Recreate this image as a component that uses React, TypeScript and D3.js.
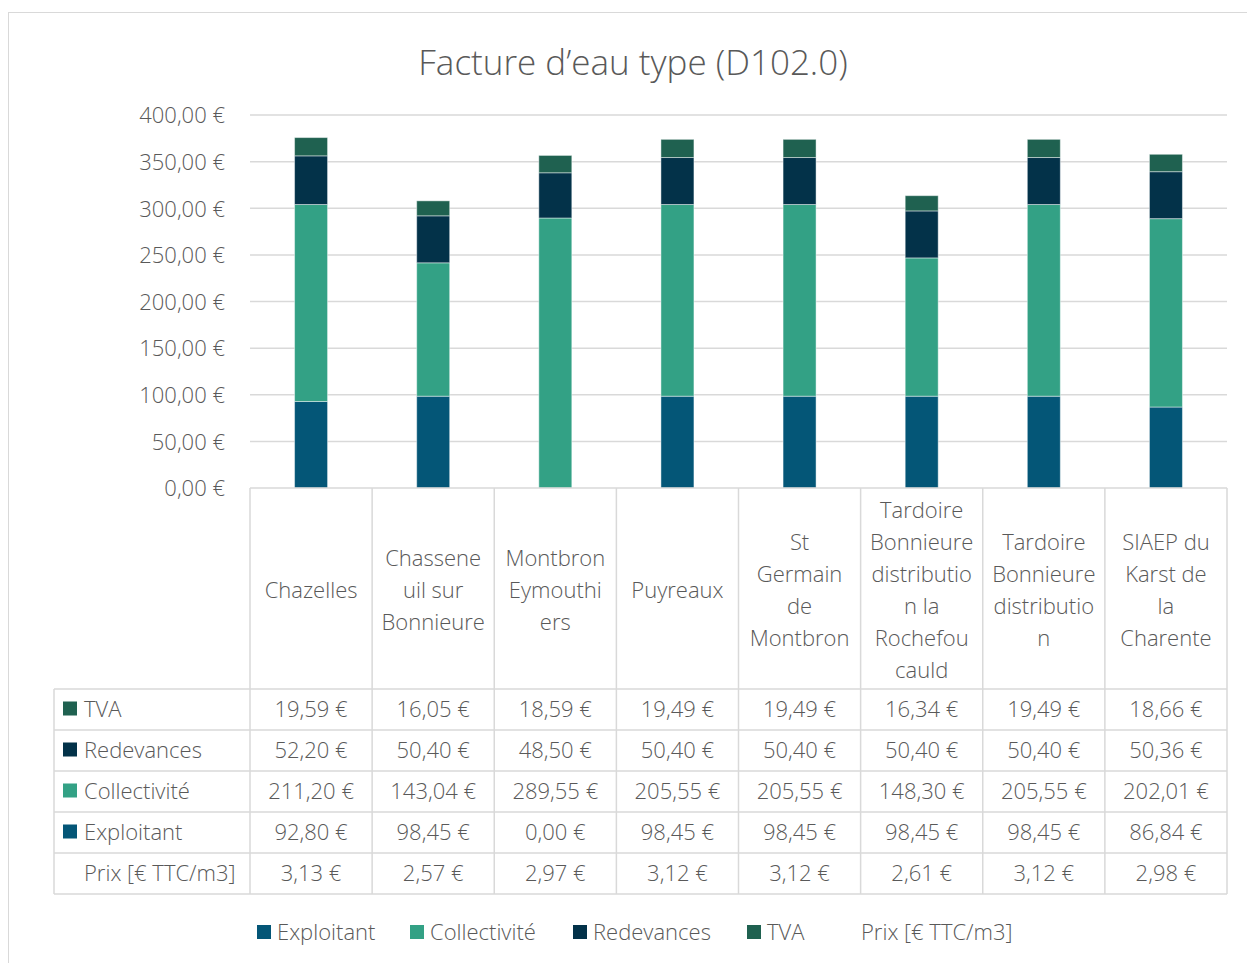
import React from 'react';
import * as d3 from 'd3';

// chart data
const categories = [
  'Chazelles',
  'Chasseneuil sur Bonnieure',
  'Montbron Eymouthiers',
  'Puyreaux',
  'St Germain de Montbron',
  'Tardoire Bonnieure distribution la Rochefoucauld',
  'Tardoire Bonnieure distribution',
  'SIAEP du Karst de la Charente',
];
// wrapped the way the reference wraps them
const categoryLines = [
  ['Chazelles'],
  ['Chassene', 'uil sur', 'Bonnieure'],
  ['Montbron', 'Eymouthi', 'ers'],
  ['Puyreaux'],
  ['St', 'Germain', 'de', 'Montbron'],
  ['Tardoire', 'Bonnieure', 'distributio', 'n la', 'Rochefou', 'cauld'],
  ['Tardoire', 'Bonnieure', 'distributio', 'n'],
  ['SIAEP du', 'Karst de', 'la', 'Charente'],
];
const exploitant = [92.8, 98.45, 0, 98.45, 98.45, 98.45, 98.45, 86.84];
const collectivite = [211.2, 143.04, 289.55, 205.55, 205.55, 148.3, 205.55, 202.01];
const redevances = [52.2, 50.4, 48.5, 50.4, 50.4, 50.4, 50.4, 50.36];
const tva = [19.59, 16.05, 18.59, 19.49, 19.49, 16.34, 19.49, 18.66];
const prix = [3.13, 2.57, 2.97, 3.12, 3.12, 2.61, 3.12, 2.98];
const yTicks = [0, 50, 100, 150, 200, 250, 300, 350, 400];

const seriesKeys = ['Exploitant', 'Collectivité', 'Redevances', 'TVA'];
const seriesValues = [exploitant, collectivite, redevances, tva];
const colors = ['#045677', '#33a185', '#033249', '#1f6150'];

const W = 1247;
const H = 963;
const FONT = "'Open Sans', 'Noto Sans', sans-serif";
const TXT = '#595959';
const GRID = '#d9d9d9';
const FS = 22;

const locale = d3.formatLocale({
  decimal: ',',
  thousands: '\u00a0',
  grouping: [3],
  currency: ['', '\u00a0€'],
});
const eur = locale.format('$,.2f');

export default function App() {
  const plot = { left: 250, right: 1227, top: 115, bottom: 488 };

  const x = d3.scaleBand<number>()
    .domain(d3.range(categories.length))
    .range([plot.left, plot.right]);

  const y = d3.scaleLinear().domain([0, 400]).range([plot.bottom, plot.top]);

  const rows = categories.map((c, i) => {
    const r: any = { cat: c };
    seriesKeys.forEach((k, j) => (r[k] = seriesValues[j][i]));
    return r;
  });
  const stacked = d3.stack().keys(seriesKeys)(rows);

  const barW = 33;
  const labelBottom = 689;
  const rowH = 41;
  // table rows top->bottom
  const tableRows = [
    { name: 'TVA', color: colors[3], values: tva },
    { name: 'Redevances', color: colors[2], values: redevances },
    { name: 'Collectivité', color: colors[1], values: collectivite },
    { name: 'Exploitant', color: colors[0], values: exploitant },
    { name: 'Prix [€ TTC/m3]', color: null, values: prix },
  ];
  const tableLeft = 54;
  const tableBottom = labelBottom + rowH * tableRows.length;

  const legendItems = [
    { name: 'Exploitant', color: colors[0], x: 257 },
    { name: 'Collectivité', color: colors[1], x: 410 },
    { name: 'Redevances', color: colors[2], x: 573 },
    { name: 'TVA', color: colors[3], x: 747 },
    { name: 'Prix [€ TTC/m3]', color: null, x: 847 },
  ];

  return (
    <svg width={W} height={H} style={{ position: 'absolute', left: 0, top: 0, background: '#fff' }}
      fontFamily={FONT} fontWeight={300}>
      <rect x={8.5} y={12.5} width={W + 10} height={H + 10} fill="#fff" stroke={GRID} />

      <text x={633} y={75} textAnchor="middle" fontSize={35} fill={TXT}>
        Facture d’eau type (D102.0)
      </text>

      {/* gridlines and y labels */}
      {yTicks.map(t => (
        <g key={t}>
          {t > 0 && (
            <line x1={plot.left} x2={plot.right} y1={y(t)} y2={y(t)} stroke={GRID} strokeWidth={1.5} />
          )}
          <text x={225} y={y(t)} dy="0.38em" textAnchor="end" fontSize={FS} fill={TXT}>
            {eur(t)}
          </text>
        </g>
      ))}

      {/* stacked bars */}
      {stacked.map((s, j) => (
        <g key={s.key} fill={colors[j]}>
          {s.map((d, i) => {
            const h = y(d[0]) - y(d[1]);
            if (h <= 0) return null;
            return (
              <rect key={i} x={x(i)! + x.bandwidth() / 2 - barW / 2} y={y(d[1])}
                width={barW} height={h} stroke="#ffffff" strokeOpacity={0.45} strokeWidth={1} />
            );
          })}
        </g>
      ))}

      {/* data table */}
      <g stroke={GRID} strokeWidth={1.5}>
        <line x1={plot.left} x2={plot.right} y1={plot.bottom} y2={plot.bottom} />
        {d3.range(categories.length + 1).map(i => {
          const xx = i < categories.length ? x(i)! : plot.right;
          return <line key={i} x1={xx} x2={xx} y1={plot.bottom} y2={tableBottom} />;
        })}
        <line x1={tableLeft} x2={tableLeft} y1={labelBottom} y2={tableBottom} />
        {d3.range(tableRows.length + 1).map(r => (
          <line key={r} x1={tableLeft} x2={plot.right} y1={labelBottom + r * rowH} y2={labelBottom + r * rowH} />
        ))}
      </g>

      {/* category labels */}
      {categoryLines.map((lines, i) => {
        const cx = x(i)! + x.bandwidth() / 2;
        const cy = 590;
        const lh = 32;
        const y0 = cy - ((lines.length - 1) * lh) / 2;
        return (
          <text key={i} textAnchor="middle" fontSize={FS} fill={TXT}>
            {lines.map((l, k) => (
              <tspan key={k} x={cx} y={y0 + k * lh} dy="0.36em">{l}</tspan>
            ))}
          </text>
        );
      })}

      {/* table rows */}
      {tableRows.map((r, ri) => {
        const cy = labelBottom + ri * rowH + rowH / 2;
        return (
          <g key={r.name}>
            {r.color && <rect x={63} y={cy - 8} width={14} height={14} fill={r.color} />}
            <text x={84} y={cy} dy="0.36em" fontSize={FS} fill={TXT}>{r.name}</text>
            {r.values.map((v, i) => (
              <text key={i} x={x(i)! + x.bandwidth() / 2} y={cy} dy="0.36em" textAnchor="middle"
                fontSize={FS} fill={TXT}>
                {eur(v)}
              </text>
            ))}
          </g>
        );
      })}

      {/* legend */}
      {legendItems.map(l => (
        <g key={l.name}>
          {l.color && <rect x={l.x} y={925} width={14} height={14} fill={l.color} />}
          <text x={l.x + (l.color ? 20 : 14)} y={932} dy="0.36em" fontSize={FS} fill={TXT}>{l.name}</text>
        </g>
      ))}
    </svg>
  );
}
